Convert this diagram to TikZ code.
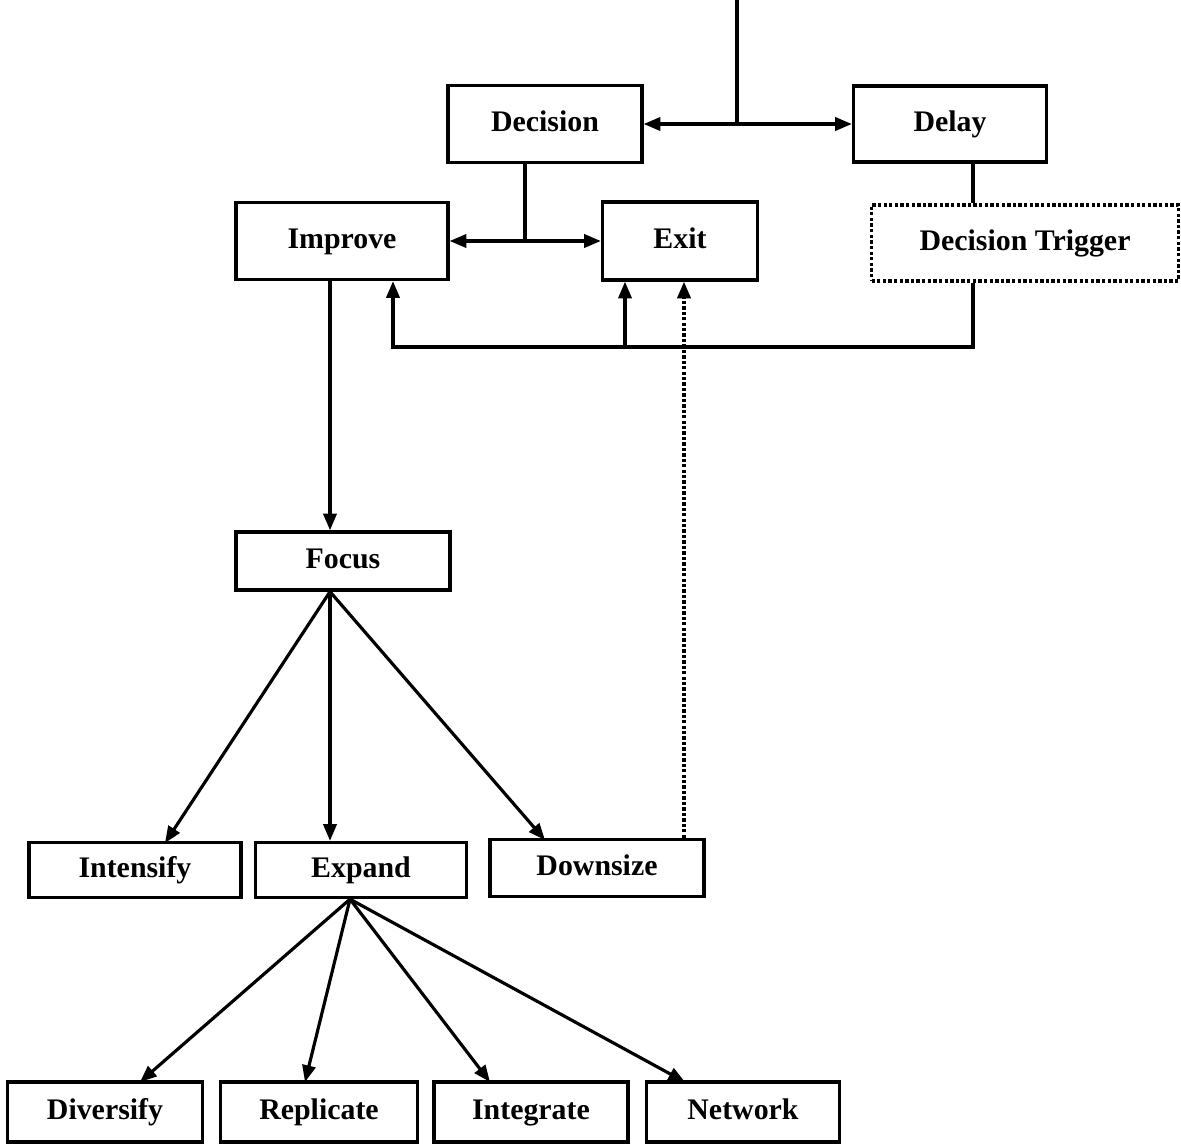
\documentclass[tikz,border=0pt]{standalone}
\usepackage{fontspec}
\setmainfont{Liberation Serif}
\usetikzlibrary{arrows.meta}
\begin{document}
\begin{tikzpicture}
[
 x=0.02cm, y=-0.02cm,
 every node/.style={font=\fontsize{17}{20}\selectfont\bfseries, text height=12pt, text depth=4pt},
 line width=1.8pt,
 >={Triangle[length=9.5pt,width=7.5pt]},
 B/.style={rectangle, draw=black, line width=1.9pt, inner sep=0pt},
 BD/.style={rectangle, draw=black, line width=1.9pt, dash pattern=on 1.9pt off 1.3pt, inner sep=0pt},
 L/.style={line width=1.8pt},
 LD/.style={line width=1.9pt, dash pattern=on 1.9pt off 1.2pt}
 ]
%
\useasboundingbox (0,0) rectangle (1181,1144);
%
\node [B, minimum width=194*0.02cm, minimum height=77*0.02cm] (dec)   at ( 545, 124) {Decision};
\node [B, minimum width=193*0.02cm, minimum height=76*0.02cm] (delay) at ( 950, 124) {Delay};
\node [B, minimum width=212*0.02cm, minimum height=77*0.02cm] (imp)   at ( 342, 241) {Improve};
\node [B, minimum width=155*0.02cm, minimum height=78*0.02cm] (exit)  at ( 680, 241) {Exit};
\node [BD, minimum width=307*0.02cm, minimum height=76*0.02cm] (trig) at (1025, 243) {Decision Trigger};
%
\node [B, minimum width=214*0.02cm, minimum height=58*0.02cm] (focus) at ( 343, 561) {Focus};
%
\node [B, minimum width=212*0.02cm, minimum height=55*0.02cm] (int)   at ( 135, 870) {Intensify};
\node [B, minimum width=211*0.02cm, minimum height=55*0.02cm] (exp)   at ( 361, 870) {Expand};
\node [B, minimum width=214*0.02cm, minimum height=57*0.02cm] (down)  at ( 597, 868) {Downsize};
%
\node [B, minimum width=195*0.02cm, minimum height=60*0.02cm] (div)   at ( 105, 1112) {Diversify};
\node [B, minimum width=197*0.02cm, minimum height=60*0.02cm] (rep)   at ( 319, 1112) {Replicate};
\node [B, minimum width=194*0.02cm, minimum height=60*0.02cm] (integ) at ( 531, 1112) {Integrate};
\node [B, minimum width=193*0.02cm, minimum height=60*0.02cm] (net)   at ( 743, 1112) {Network};
%
\coordinate (top) at (737, 0);
\coordinate (j1)  at (737, 124);
\coordinate (j2)  at (525, 241);
\coordinate (j3)  at (973, 347);
\coordinate (j4)  at (393, 347);
\coordinate (j5)  at (625, 347);
\coordinate (dz)  at (684, 0);
\coordinate (fz)  at (330, 0);
\coordinate (ez)  at (350, 0);
%
\draw [L] (top) -- (j1);
\draw [L, <->] (dec.east) -- (delay.west);
\draw [L] (j2 |- dec.south) -- (j2);
\draw [L, <->] (imp.east) -- (exit.west);
%
\draw [L] (j3 |- delay.south) -- (j3 |- trig.north);
\draw [L, ->] (j3 |- trig.south) -- (j3) -- (j4) -- (j4 |- imp.south);
\draw [L, ->] (j5) -- (j5 |- exit.south);
\draw [LD, ->] (dz |- down.north) -- (dz |- exit.south);
%
\draw [L, ->] (fz |- imp.south) -- (fz |- focus.north);
%
\draw [L, ->] (fz |- focus.south) -- (165, 843);
\draw [L, ->] (fz |- focus.south) -- (fz |- exp.north);
\draw [L, ->] (fz |- focus.south) -- (545, 840);
%
\draw [L, ->] (ez |- exp.south) -- (140, 1082);
\draw [L, ->] (ez |- exp.south) -- (305, 1082);
\draw [L, ->] (ez |- exp.south) -- (490, 1082);
\draw [L, ->] (ez |- exp.south) -- (685, 1082);
%
\end{tikzpicture}
\end{document}
